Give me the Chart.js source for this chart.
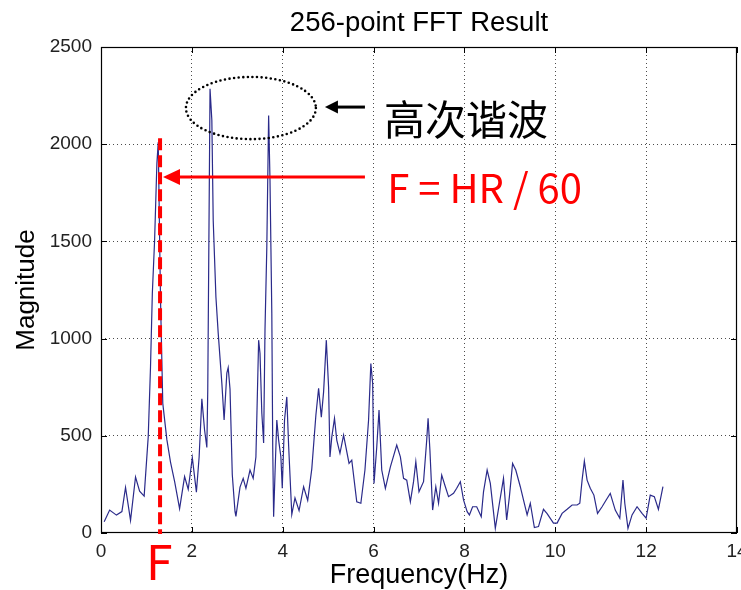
<!DOCTYPE html>
<html><head><meta charset="utf-8">
<script src="https://cdn.jsdelivr.net/npm/chart.js@4/dist/chart.umd.min.js"></script>
<style>html,body{margin:0;padding:0;background:#fff;}canvas{display:block;}</style>
</head><body>
<canvas id="c" width="741" height="590"></canvas>
<script>
const chartTitle = '256-point FFT Result';
const xAxisLabel = 'Frequency(Hz)';
const yAxisLabel = 'Magnitude';
const xTickValues = [0, 2, 4, 6, 8, 10, 12, 14];
const xTickLabels = ['0', '2', '4', '6', '8', '10', '12', '14'];
const yTickValues = [0, 500, 1000, 1500, 2000, 2500];
const yTickLabels = ['0', '500', '1000', '1500', '2000', '2500'];

const freqs = [0.07,0.19,0.34,0.46,0.54,0.65,0.76,0.85,0.95,1.04,
 1.09,1.13,1.18,1.23,1.26,1.31,1.36,1.45,1.53,1.62,
 1.73,1.84,1.92,2.01,2.10,2.16,2.22,2.28,2.33,2.35,
 2.37,2.40,2.44,2.47,2.53,2.58,2.66,2.71,2.77,2.80,
 2.84,2.89,2.95,2.97,3.06,3.13,3.19,3.28,3.35,3.41,
 3.47,3.50,3.54,3.58,3.61,3.65,3.69,3.72,3.76,3.78,
 3.80,3.83,3.87,3.91,3.96,3.99,4.04,4.09,4.13,4.20,
 4.27,4.36,4.46,4.55,4.64,4.73,4.79,4.85,4.90,4.96,
 5.01,5.04,5.08,5.14,5.19,5.26,5.34,5.46,5.52,5.63,
 5.72,5.81,5.89,5.94,5.98,6.01,6.07,6.12,6.18,6.26,
 6.37,6.51,6.59,6.66,6.73,6.81,6.88,6.93,7.00,7.10,
 7.17,7.20,7.24,7.30,7.37,7.43,7.50,7.58,7.65,7.76,
 7.83,7.91,7.98,8.06,8.11,8.18,8.27,8.37,8.42,8.50,
 8.57,8.68,8.77,8.86,8.93,8.99,9.06,9.13,9.23,9.30,
 9.38,9.45,9.54,9.63,9.74,9.82,9.96,10.04,10.15,10.26,
 10.37,10.48,10.54,10.59,10.64,10.70,10.77,10.85,10.93,11.03,
 11.12,11.21,11.32,11.42,11.49,11.53,11.60,11.69,11.80,11.91,
 12.00,12.09,12.18,12.27,12.37];

const mags = [58,118,92,110,234,65,288,215,190,497,
 855,1232,1506,1900,2010,1200,667,480,365,265,
 125,290,225,388,210,391,690,530,440,735,
 1352,2285,2123,1609,1213,1028,771,581,822,850,
 740,300,110,85,236,281,230,324,281,391,
 992,925,617,463,1044,1470,2148,1814,1131,442,
 84,303,581,478,391,230,581,700,450,95,
 180,115,238,168,330,606,744,596,726,992,
 750,391,493,590,478,410,504,358,375,161,
 153,324,581,872,769,255,442,632,324,230,
 340,452,392,281,272,161,264,367,212,264,
 478,590,427,118,238,153,298,238,187,204,
 230,264,170,110,93,135,135,84,212,324,
 255,24,153,281,67,187,358,324,238,170,
 93,153,28,33,122,100,51,51,101,122,
 144,144,153,272,370,272,230,195,101,135,
 170,204,118,76,272,153,24,93,135,101,
 76,195,187,122,238];

const harmonicsLabel = '高次谐波';
const formulaLabel = 'F = HR / 60';
const fundamentalLabel = 'F';
const fundamentalFreq = 1.30;

const points = freqs.map((f, i) => ({ x: f, y: mags[i] }));
const FONT = '"Liberation Sans", Arial, Helvetica, sans-serif';
const CJK = '"Noto Sans CJK SC", "Noto Sans", sans-serif';

function drawArrow(ctx, x1, y1, x2, y2, headLen, headHalf, lw, color) {
  const dir = Math.sign(x2 - x1) || 1;
  ctx.strokeStyle = color; ctx.fillStyle = color; ctx.lineWidth = lw; ctx.setLineDash([]);
  ctx.beginPath(); ctx.moveTo(x1, y1); ctx.lineTo(x2 - dir * headLen * 0.8, y2); ctx.stroke();
  ctx.beginPath();
  ctx.moveTo(x2, y2);
  ctx.lineTo(x2 - dir * headLen, y2 - headHalf);
  ctx.lineTo(x2 - dir * headLen, y2 + headHalf);
  ctx.closePath(); ctx.fill();
}

const annot = {
  id: 'annot',
  afterDraw(chart) {
    const { ctx, chartArea: a, scales: { x, y } } = chart;
    ctx.save();
    ctx.strokeStyle = '#000'; ctx.lineWidth = 1; ctx.setLineDash([]);
    ctx.beginPath();
    xTickValues.forEach(v => {
      const px = Math.round(x.getPixelForValue(v)) + 0.5;
      ctx.moveTo(px, a.bottom); ctx.lineTo(px, a.bottom - 6);
      ctx.moveTo(px, a.top); ctx.lineTo(px, a.top + 6);
    });
    yTickValues.forEach(v => {
      const py = Math.round(y.getPixelForValue(v)) + 0.5;
      ctx.moveTo(a.left, py); ctx.lineTo(a.left + 6, py);
      ctx.moveTo(a.right, py); ctx.lineTo(a.right - 6, py);
    });
    ctx.stroke();
    ctx.lineWidth = 1.2;
    ctx.strokeRect(Math.round(a.left) + 0.5, Math.round(a.top) + 0.5,
      Math.round(a.right - a.left) - 1, Math.round(a.bottom - a.top) - 1);

    const fx = x.getPixelForValue(fundamentalFreq);
    ctx.strokeStyle = '#ff0000'; ctx.lineWidth = 4; ctx.setLineDash([12, 5]);
    ctx.beginPath(); ctx.moveTo(fx, y.getPixelForValue(2030)); ctx.lineTo(fx, a.bottom + 1); ctx.stroke();
    ctx.setLineDash([]);

    drawArrow(ctx, x.getPixelForValue(5.81), y.getPixelForValue(1831),
      x.getPixelForValue(1.365), y.getPixelForValue(1831), 17, 8, 3, '#ff0000');
    drawArrow(ctx, x.getPixelForValue(5.81), y.getPixelForValue(2191),
      x.getPixelForValue(4.93), y.getPixelForValue(2191), 13, 6.5, 3, '#000');

    const cx = x.getPixelForValue(3.30), cy = y.getPixelForValue(2186);
    const rx = x.getPixelForValue(3.30 + 1.43) - cx;
    const ry = cy - y.getPixelForValue(2186 + 160);
    ctx.strokeStyle = '#000'; ctx.lineWidth = 2.6; ctx.lineCap = 'round';
    ctx.setLineDash([0, 4.6]);
    ctx.beginPath(); ctx.ellipse(cx, cy, rx, ry, 0, 0, Math.PI * 2); ctx.stroke();
    ctx.setLineDash([]); ctx.lineCap = 'butt';

    ctx.fillStyle = '#000';
    ctx.font = '41px ' + CJK;
    ctx.textAlign = 'left'; ctx.textBaseline = 'middle';
    ctx.fillText(harmonicsLabel, x.getPixelForValue(6.23), y.getPixelForValue(2130));

    ctx.fillStyle = '#ff0000';
    ctx.font = '40px ' + CJK;
    ctx.textBaseline = 'alphabetic';
    ctx.fillText(formulaLabel, x.getPixelForValue(6.30), y.getPixelForValue(1697));

    ctx.font = '48px ' + CJK;
    ctx.textAlign = 'center';
    ctx.fillText(fundamentalLabel, x.getPixelForValue(1.28), y.getPixelForValue(-242));
    ctx.restore();
  }
};

const gridColor = (ctx, max) => (ctx.tick && (ctx.tick.value === 0 || ctx.tick.value === max)) ? 'rgba(0,0,0,0)' : 'rgba(0,0,0,0.7)';

new Chart(document.getElementById('c'), {
  type: 'line',
  data: {
    datasets: [{
      data: points,
      borderColor: '#2a2a8a',
      borderWidth: 1.2,
      pointRadius: 0,
      fill: false,
      tension: 0
    }]
  },
  options: {
    responsive: false,
    animation: false,
    devicePixelRatio: 1,
    layout: { padding: { left: 0, right: 4, top: 0, bottom: 0 } },
    plugins: {
      legend: { display: false },
      tooltip: { enabled: false },
      title: {
        display: true, text: chartTitle, fullSize: false, color: '#000',
        font: { family: FONT, size: 27.5, weight: 'normal', lineHeight: 1.2 },
        padding: { top: 7, bottom: 7 }
      }
    },
    scales: {
      x: {
        type: 'linear', min: 0, max: 14,
        ticks: {
          stepSize: 2, autoSkip: false, maxRotation: 0, padding: 7, color: '#222',
          font: { family: FONT, size: 19 },
          callback: v => { const i = xTickValues.indexOf(v); return i >= 0 ? xTickLabels[i] : ''; }
        },
        grid: { drawTicks: false, lineWidth: 1, color: c => gridColor(c, 14) },
        border: { display: false, dash: [1, 3] },
        title: {
          display: true, text: xAxisLabel, color: '#000',
          font: { family: FONT, size: 27, lineHeight: 1.05 }, padding: { top: 0, bottom: 0 }
        },
        afterFit(s) { s.height = 57; s.paddingLeft = 0; s.paddingRight = 0; }
      },
      y: {
        type: 'linear', min: 0, max: 2500,
        ticks: {
          stepSize: 500, padding: 9, color: '#222',
          font: { family: FONT, size: 19 },
          callback: v => { const i = yTickValues.indexOf(v); return i >= 0 ? yTickLabels[i] : ''; }
        },
        grid: { drawTicks: false, lineWidth: 1, color: c => gridColor(c, 2500) },
        border: { display: false, dash: [1, 3] },
        title: {
          display: true, text: yAxisLabel, color: '#000',
          font: { family: FONT, size: 26, lineHeight: 1.1 }, padding: { top: 13, bottom: 0 }
        },
        afterFit(s) { s.width = 101; }
      }
    }
  },
  plugins: [annot]
});
</script>
</body></html>
